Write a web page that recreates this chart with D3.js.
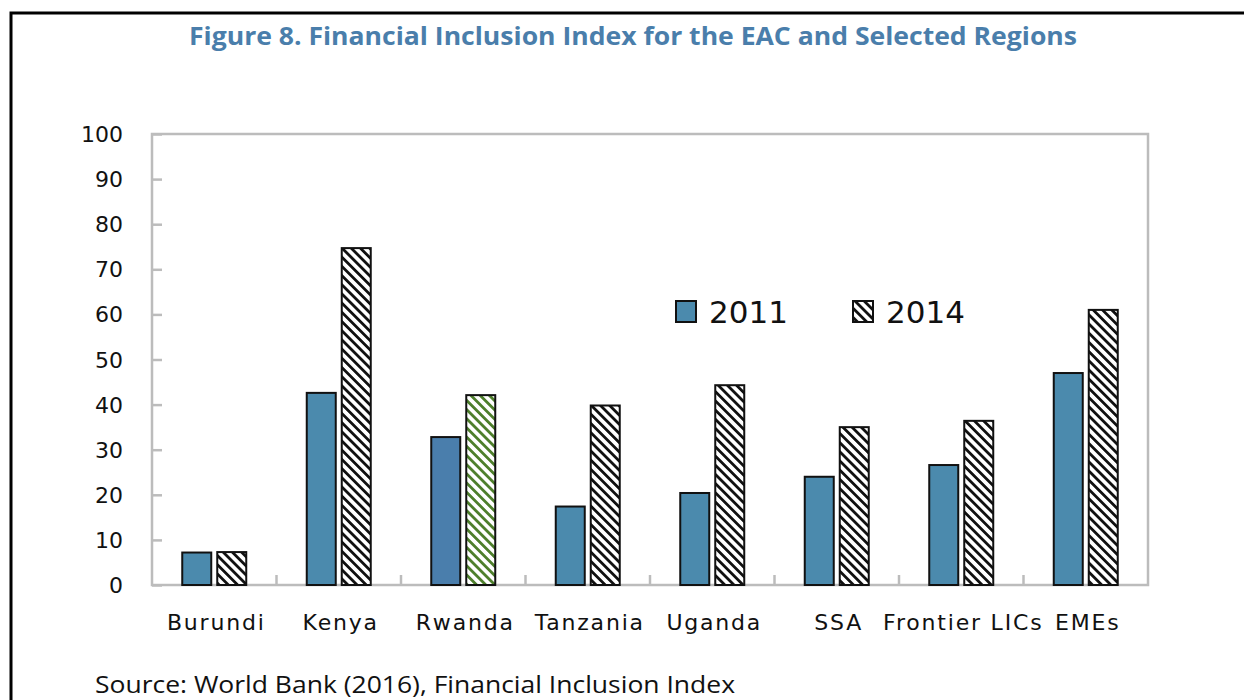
<!DOCTYPE html>
<html>
<head>
<meta charset="utf-8">
<script src="https://cdn.jsdelivr.net/npm/d3@7"></script>
<style>
  body { margin: 0; background: #fff; }
  svg { display: block; }
</style>
</head>
<body>
<svg id="chart"></svg>
<script>
// data
var categories = ['Burundi', 'Kenya', 'Rwanda', 'Tanzania', 'Uganda', 'SSA', 'Frontier LICs', 'EMEs'];
var values2011 = [7.2, 42.6, 32.8, 17.4, 20.4, 24.0, 26.6, 47.0];
var values2014 = [7.3, 74.7, 42.1, 39.8, 44.3, 35.0, 36.4, 61.0];
var seriesNames = ['2011', '2014'];
var yTicks = [0, 10, 20, 30, 40, 50, 60, 70, 80, 90, 100];

var svgWidth = 1244, svgHeight = 700;
var plot = {left: 152, right: 1148, top: 134, bottom: 585};

var svg = d3.select('#chart')
    .attr('width', svgWidth)
    .attr('height', svgHeight);

var defs = svg.append('defs');
function hatch(id, color) {
  var p = defs.append('pattern')
      .attr('id', id)
      .attr('patternUnits', 'userSpaceOnUse')
      .attr('width', 6.5)
      .attr('height', 6.5)
      .attr('patternTransform', 'rotate(-45)');
  p.append('rect').attr('width', 6.5).attr('height', 6.5).attr('fill', '#fff');
  p.append('rect').attr('x', 0).attr('width', 2.8).attr('height', 6.5).attr('fill', color);
}
hatch('hatchBlack', '#111');
hatch('hatchGreen', '#4e7f2c');

// outer frame (top + left only visible)
svg.append('path')
    .attr('d', 'M11,1244 V13 H1244')
    .attr('fill', 'none')
    .attr('stroke', '#000')
    .attr('stroke-width', 3);

svg.append('text')
    .attr('x', 633)
    .attr('y', 45)
    .attr('text-anchor', 'middle')
    .style('font', 'bold 25px "Open Sans", sans-serif')
    .attr('fill', '#4a7eab')
    .attr('textLength', 888)
    .attr('lengthAdjust', 'spacingAndGlyphs')
    .text('Figure 8. Financial Inclusion Index for the EAC and Selected Regions');

var xScale = d3.scaleBand()
    .domain(categories)
    .range([plot.left, plot.right]);

var yScale = d3.scaleLinear()
    .domain([0, 100])
    .range([plot.bottom, plot.top]);

// plot frame
svg.append('rect')
    .attr('x', plot.left)
    .attr('y', plot.top)
    .attr('width', plot.right - plot.left)
    .attr('height', plot.bottom - plot.top)
    .attr('fill', 'none')
    .attr('stroke', '#bcbcbc')
    .attr('stroke-width', 2.5);

// y axis: ticks point inward
var yAxis = svg.append('g')
    .attr('transform', 'translate(' + plot.left + ',0)')
    .call(d3.axisRight(yScale).tickValues(yTicks).tickSize(10).tickFormat(''));
yAxis.select('.domain').remove();
yAxis.selectAll('line').attr('stroke', '#bcbcbc').attr('stroke-width', 2.5);

svg.selectAll('.ylab')
    .data(yTicks)
    .enter()
    .append('text')
    .attr('class', 'ylab')
    .attr('x', 123)
    .attr('y', function(d) { return yScale(d) + 8; })
    .attr('text-anchor', 'end')
    .style('font', '22px "DejaVu Sans", Verdana, sans-serif')
    .attr('fill', '#111')
    .text(function(d) { return d; });

// x ticks between categories, pointing up
var boundaries = categories.slice(1).map(function(c) { return xScale(c); });
svg.selectAll('.xtick')
    .data(boundaries)
    .enter()
    .append('line')
    .attr('x1', function(d) { return d; })
    .attr('x2', function(d) { return d; })
    .attr('y1', plot.bottom)
    .attr('y2', plot.bottom - 10)
    .attr('stroke', '#bcbcbc')
    .attr('stroke-width', 2.5);

var barWidth = 29, barGap = 6;
var bw = xScale.bandwidth();

svg.selectAll('.bar2011')
    .data(values2011)
    .enter()
    .append('rect')
    .attr('x', function(d, i) { return xScale(categories[i]) + bw / 2 - barGap / 2 - barWidth; })
    .attr('y', function(d) { return yScale(d); })
    .attr('width', barWidth)
    .attr('height', function(d) { return yScale(0) - yScale(d); })
    .attr('fill', function(d, i) { return categories[i] == 'Rwanda' ? '#4a7eac' : '#4b8aad'; })
    .attr('stroke', '#111')
    .attr('stroke-width', 2);

svg.selectAll('.bar2014')
    .data(values2014)
    .enter()
    .append('rect')
    .attr('x', function(d, i) { return xScale(categories[i]) + bw / 2 + barGap / 2; })
    .attr('y', function(d) { return yScale(d); })
    .attr('width', barWidth)
    .attr('height', function(d) { return yScale(0) - yScale(d); })
    .attr('fill', function(d, i) { return categories[i] == 'Rwanda' ? 'url(#hatchGreen)' : 'url(#hatchBlack)'; })
    .attr('stroke', '#111')
    .attr('stroke-width', 2);

svg.selectAll('.xlab')
    .data(categories)
    .enter()
    .append('text')
    .attr('x', function(d) { return xScale(d) + bw / 2 + 2; })
    .attr('y', 630)
    .attr('text-anchor', 'middle')
    .style('font', '22px "DejaVu Sans", Verdana, sans-serif')
    .style('letter-spacing', '1.8px')
    .attr('fill', '#111')
    .text(function(d) { return d; });

// legend
var legend = svg.selectAll('.legend')
    .data(seriesNames)
    .enter()
    .append('g')
    .attr('transform', function(d, i) { return 'translate(' + (676 + i * 177) + ',301)'; });
legend.append('rect')
    .attr('width', 20)
    .attr('height', 21)
    .attr('fill', function(d, i) { return i == 0 ? '#4b8aad' : 'url(#hatchBlack)'; })
    .attr('stroke', '#111')
    .attr('stroke-width', 2);
legend.append('text')
    .attr('x', 33)
    .attr('y', 22)
    .style('font', '31px "DejaVu Sans", Verdana, sans-serif')
    .attr('fill', '#111')
    .text(function(d) { return d; });

svg.append('text')
    .attr('x', 95)
    .attr('y', 693)
    .style('font', '24px "Open Sans", sans-serif')
    .attr('fill', '#111')
    .attr('textLength', 640)
    .attr('lengthAdjust', 'spacingAndGlyphs')
    .text('Source: World Bank (2016), Financial Inclusion Index');
</script>
</body>
</html>
